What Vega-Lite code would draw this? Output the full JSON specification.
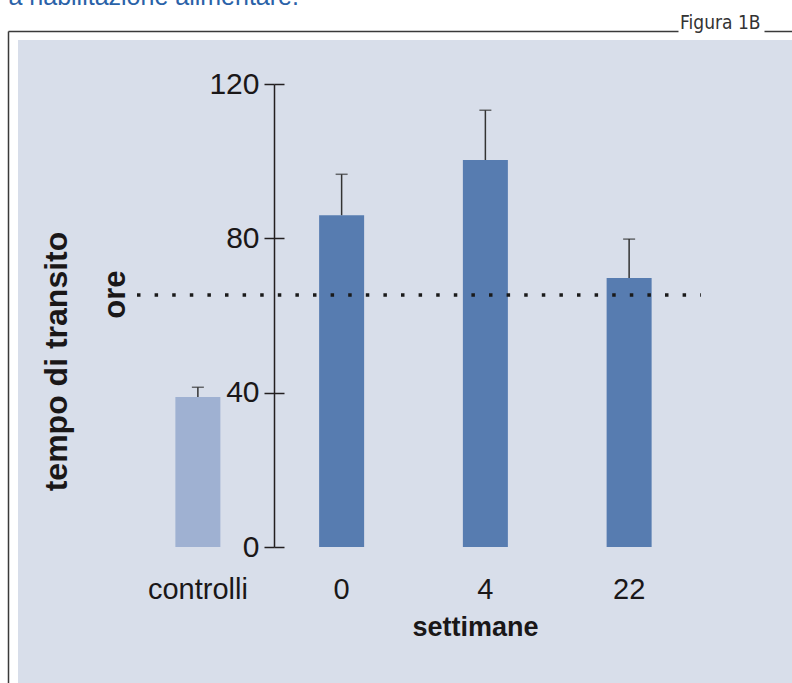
{
  "$schema": "https://vega.github.io/schema/vega-lite/v6.json",
  "width": 774,
  "height": 643,
  "autosize": {"type": "none"},
  "padding": {"left": 18, "top": 40, "right": 0, "bottom": 0},
  "background": "#ffffff",
  "config": {
    "font": "Liberation Sans",
    "view": {"fill": "#d8deea", "stroke": null},
    "axisX": {
      "domain": false, "ticks": false, "tickSize": 0, "grid": false
    }
  },
  "datasets": {
    "gruppi": [
      {"gruppo": "controlli", "tipo": "controlli", "valore": 38.9, "sup": 41.4},
      {"gruppo": "0", "tipo": "settimane", "valore": 86.0, "sup": 96.6},
      {"gruppo": "4", "tipo": "settimane", "valore": 100.3, "sup": 113.2},
      {"gruppo": "22", "tipo": "settimane", "valore": 69.7, "sup": 79.8}
    ],
    "riferimento": [{"ore": 65.3}]
  },
  "layer": [
    {
      "data": {"name": "gruppi"},
      "encoding": {
        "x": {
          "field": "gruppo", "type": "nominal", "sort": null,
          "scale": {"domain": ["controlli", "0", "4", "22"], "range": [108, 683], "paddingInner": 0, "paddingOuter": 0},
          "axis": {
            "orient": "bottom", "offset": -136, "domain": false, "ticks": false, "tickSize": 0,
            "labelFontSize": 29, "labelColor": "#1a1718", "labelAngle": 0, "labelPadding": 51, "labelBaseline": "alphabetic",
            "title": "settimane", "titleFontSize": 27, "titleFontWeight": "bold", "titleColor": "#1a1718",
            "titleX": 457, "titleY": 88, "titleBaseline": "alphabetic", "titleAlign": "center"
          }
        }
      },
      "layer": [
        {
          "mark": {"type": "bar", "width": 45},
          "encoding": {
            "y": {
              "field": "valore", "type": "quantitative",
              "scale": {"domain": [0, 120], "range": [507, 44], "nice": false, "zero": false},
              "axis": {
                "orient": "left", "offset": -256, "values": [0, 40, 80, 120], "grid": false,
                "domain": true, "domainColor": "#231f20", "domainWidth": 1.5,
                "ticks": true, "tickSize": 10, "tickColor": "#231f20", "tickWidth": 1.5,
                "labelFontSize": 30, "labelColor": "#1a1718", "labelPadding": 5,
                "title": "tempo di transito", "titleFontSize": 32, "titleFontWeight": "bold", "titleColor": "#1a1718",
                "titleAngle": -90, "titleX": -208, "titleY": 321, "titleAlign": "center", "titleBaseline": "alphabetic"
              }
            },
            "color": {
              "field": "tipo", "type": "nominal",
              "scale": {"domain": ["controlli", "settimane"], "range": ["#9fb1d2", "#577cb0"]},
              "legend": null
            }
          }
        },
        {
          "mark": {"type": "rule", "color": "#333333", "strokeWidth": 1.5},
          "encoding": {
            "y": {"field": "valore", "type": "quantitative",
              "scale": {"domain": [0, 120], "range": [507, 44], "nice": false, "zero": false}, "axis": null},
            "y2": {"field": "sup"}
          }
        },
        {
          "mark": {"type": "tick", "orient": "horizontal", "color": "#333333", "size": 12, "thickness": 1.5},
          "encoding": {
            "y": {"field": "sup", "type": "quantitative",
              "scale": {"domain": [0, 120], "range": [507, 44], "nice": false, "zero": false},
              "axis": {
                "orient": "right", "offset": -518, "values": [0, 40, 80, 120], "grid": false,
                "domain": false, "ticks": true, "tickSize": 10, "tickColor": "#231f20", "tickWidth": 1.5,
                "labels": false,
                "title": "ore", "titleFontSize": 31, "titleFontWeight": "bold", "titleColor": "#1a1718",
                "titleAngle": 270, "titleX": -150, "titleY": 254, "titleAlign": "center", "titleBaseline": "alphabetic"
              }
            }
          }
        },
        {
          "data": {"name": "riferimento"},
          "mark": {"type": "rule", "color": "#1a1a1a", "strokeWidth": 3.5, "strokeDash": [3.5, 14.1], "strokeDashOffset": 6.6, "strokeCap": "butt"},
          "encoding": {
            "x": {"datum": "controlli", "type": "nominal", "bandPosition": 0,
              "scale": {"domain": ["controlli", "0", "4", "22"], "range": [108, 683], "paddingInner": 0, "paddingOuter": 0}},
            "x2": {"datum": "22", "bandPosition": 1},
            "y": {"field": "ore", "type": "quantitative",
              "scale": {"domain": [0, 120], "range": [507, 44], "nice": false, "zero": false}, "axis": null}
          }
        }
      ],
      "resolve": {"axis": {"y": "independent"}}
    },
    {
      "data": {"values": [{"cornice": 0}]},
      "mark": {"type": "point", "opacity": 0},
      "encoding": {
        "x": {
          "field": "cornice", "type": "quantitative",
          "scale": {"domain": [0, 1], "range": [-10, 774]},
          "axis": {
            "orient": "top", "offset": 9, "grid": false, "ticks": false, "labels": false,
            "domain": true, "domainColor": "#3a3a3a", "domainWidth": 1.5, "domainDash": [670, 86, 200],
            "title": "a riabilitazione alimentare.", "titleFontSize": 25, "titleFontWeight": "normal", "titleColor": "#2a62a8",
            "titleX": -10, "titleY": -27, "titleAlign": "left", "titleBaseline": "alphabetic"
          }
        },
        "y": {
          "field": "cornice", "type": "quantitative",
          "scale": {"domain": [0, 1], "range": [643, -9]},
          "axis": {
            "orient": "left", "offset": 10, "grid": false, "ticks": false, "labels": false,
            "domain": true, "domainColor": "#3a3a3a", "domainWidth": 1.5,
            "title": "Figura 1B", "titleFont": "DejaVu Sans Condensed, Liberation Sans", "titleFontSize": 19, "titleFontWeight": "normal",
            "titleColor": "#333333", "titleAngle": 0, "titleX": 752, "titleY": -12, "titleAlign": "right", "titleBaseline": "alphabetic"
          }
        }
      }
    }
  ],
  "resolve": {
    "scale": {"x": "independent", "y": "independent"},
    "axis": {"x": "independent", "y": "independent"}
  }
}
